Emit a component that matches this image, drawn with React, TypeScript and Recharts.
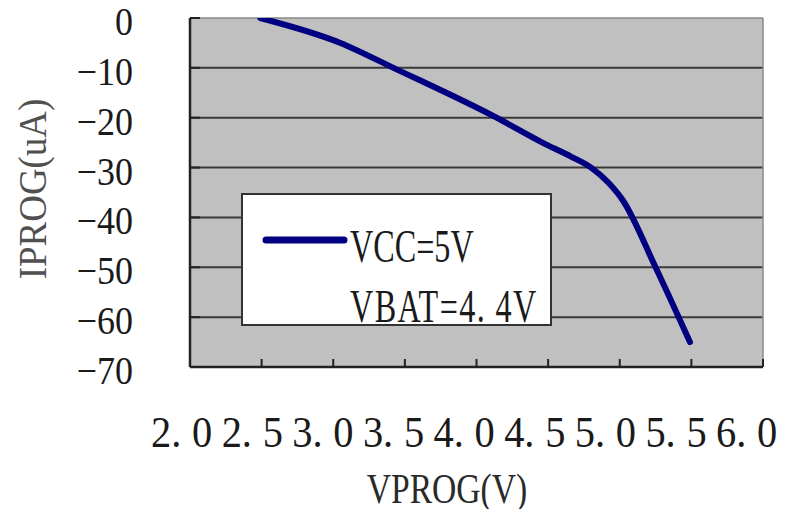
import React from 'react';
import { LineChart, Line, XAxis, YAxis, CartesianGrid, ReferenceLine, Legend } from 'recharts';

const VPROG = [2.49, 3.05, 3.42, 4.14, 4.46, 4.66, 4.8, 4.92, 5.02, 5.25, 5.49];
const IPROG = [0, -5, -10, -20, -25, -27.8, -30, -33, -36.5, -50, -65];
const X_TICKS = [2, 2.5, 3, 3.5, 4, 4.5, 5, 5.5, 6];
const X_TICK_LABELS = ['2.0', '2.5', '3.0', '3.5', '4.0', '4.5', '5.0', '5.5', '6.0'];
const Y_TICKS = [0, -10, -20, -30, -40, -50, -60, -70];
const Y_TICK_LABELS = ['0', '\u221210', '\u221220', '\u221230', '\u221240', '\u221250', '\u221260', '\u221270'];
const GRID_Y = [-10, -20, -30, -40, -50, -60];
const LEGEND_LINE1 = 'VCC=5V';
const LEGEND_LINE2 = 'VBAT=4.\u00a04V';
const X_TITLE = 'VPROG(V)';
const Y_TITLE = 'IPROG(uA)';

const data = VPROG.map((v, i) => ({ v, i: IPROG[i] }));

const W = 788;
const H = 517;
const PLOT_LEFT = 190;
const PLOT_RIGHT = 763;
const PLOT_TOP = 18;
const PLOT_BOTTOM = 367;
const FONT = '"Liberation Serif", "Times New Roman", serif';
const NAVY = '#000080';
const TEXT = '#1a1a1a';

const XTick = (props: any) => {
  const { x, payload } = props;
  const idx = X_TICKS.indexOf(payload.value);
  const label = X_TICK_LABELS[idx] ?? String(payload.value);
  const [a, b] = label.split('.');
  const shift = -idx * 1.0;
  return (
    <g>
      <line x1={x} x2={x} y1={PLOT_BOTTOM} y2={PLOT_BOTTOM - 8} stroke="#222" strokeWidth={2} />
      <text transform={`translate(${x - 39 + shift},447) scale(0.92,1)`} fontSize={44} fontFamily={FONT} fill={TEXT}>
        {a + '.'}
      </text>
      <text transform={`translate(${x + 2 + shift},447) scale(0.92,1)`} fontSize={44} fontFamily={FONT} fill={TEXT}>
        {b}
      </text>
    </g>
  );
};

const YTick = (props: any) => {
  const { y, payload } = props;
  const idx = Y_TICKS.indexOf(payload.value);
  const label = Y_TICK_LABELS[idx] ?? String(payload.value);
  return (
    <g>
      <line x1={PLOT_LEFT} x2={PLOT_LEFT + 10} y1={y} y2={y} stroke="#222" strokeWidth={2} />
      <text transform={`translate(133,${y + 17}) scale(0.9,1)`} textAnchor="end" fontSize={40} fontFamily={FONT} fill={TEXT}>
        {label}
      </text>
    </g>
  );
};

const XTitle = () => (
  <text transform={`translate(447,503) scale(0.8,1)`} textAnchor="middle" fontSize={42} fontFamily={FONT} fill="#2a2a2a">
    {X_TITLE}
  </text>
);

const YTitle = () => (
  <text transform={`translate(46,189) rotate(-90) scale(0.9,1)`} textAnchor="middle" fontSize={41} fontFamily={FONT} fill="#505050">
    {Y_TITLE}
  </text>
);

const LegendBox = () => (
  <svg width={420} height={133} style={{ display: 'block', overflow: 'visible' }}>
    <rect x={1} y={1} width={309} height={131} fill="#fff" stroke="#333" strokeWidth={2} />
    <line x1={25} x2={103} y1={47} y2={47} stroke={NAVY} strokeWidth={7} strokeLinecap="round" />
    <text transform="translate(109,69) scale(0.7,1)" fontSize={46} fontFamily={FONT} fill={TEXT}>
      {LEGEND_LINE1}
    </text>
    <text transform="translate(109,129) scale(0.7,1)" fontSize={46} fontFamily={FONT} fill={TEXT} letterSpacing={2}>
      {LEGEND_LINE2}
    </text>
  </svg>
);

export default function App() {
  return (
    <div style={{ margin: -8, width: W, height: H, background: '#fff' }}>
      <LineChart
        width={W}
        height={H}
        data={data}
        margin={{ top: PLOT_TOP, right: W - PLOT_RIGHT, left: 0, bottom: 0 }}
      >
        <CartesianGrid horizontal={false} vertical={false} fill="#C0C0C0" />
        {GRID_Y.map((g) => (
          <ReferenceLine key={g} y={g} stroke="#3a3a3a" strokeWidth={2} />
        ))}
        <ReferenceLine y={0} stroke="#8a8a8a" strokeWidth={1.5} />
        <ReferenceLine x={6} stroke="#8a8a8a" strokeWidth={1.5} />
        <XAxis
          dataKey="v"
          type="number"
          domain={[2, 6]}
          ticks={X_TICKS}
          interval={0}
          height={H - PLOT_BOTTOM}
          axisLine={{ stroke: '#222', strokeWidth: 2.5 }}
          tickLine={false}
          tick={<XTick />}
          label={<XTitle />}
          allowDataOverflow
        />
        <YAxis
          type="number"
          domain={[-70, 0]}
          ticks={Y_TICKS}
          interval={0}
          width={PLOT_LEFT}
          axisLine={{ stroke: '#222', strokeWidth: 2.5 }}
          tickLine={false}
          tick={<YTick />}
          label={<YTitle />}
          allowDataOverflow
        />
        <Legend
          layout="horizontal"
          verticalAlign="middle"
          align="center"
          content={() => <LegendBox />}
          wrapperStyle={{ position: 'absolute', left: 241, top: 193, width: 420, height: 133, margin: 0 }}
        />
        <Line
          dataKey="i"
          type="monotone"
          stroke={NAVY}
          strokeWidth={6}
          strokeLinecap="round"
          strokeLinejoin="round"
          dot={false}
          activeDot={false}
          isAnimationActive={false}
        />
      </LineChart>
    </div>
  );
}
